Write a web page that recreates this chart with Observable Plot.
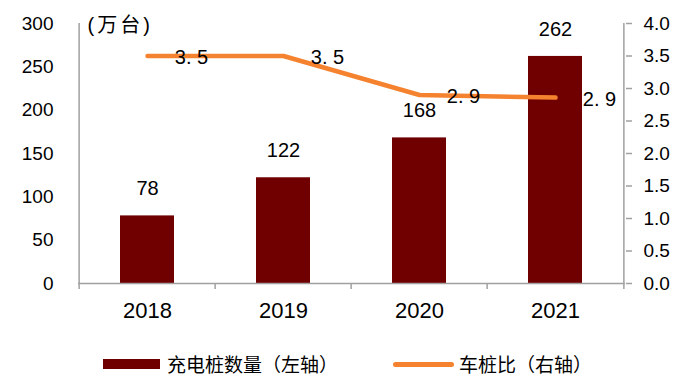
<!DOCTYPE html>
<html><head><meta charset="utf-8">
<script src="https://cdn.jsdelivr.net/npm/d3@7"></script>
<script src="https://cdn.jsdelivr.net/npm/@observablehq/plot@0.6"></script>
<style>
html,body{margin:0;padding:0;background:#fff;}
#chart{width:700px;height:382px;position:relative;overflow:hidden;font-family:"Liberation Sans","Noto Sans CJK SC",sans-serif;}
#chart svg{display:block;}
.legend{position:relative;width:700px;height:42px;font-family:"Noto Sans CJK SC",sans-serif;font-size:19px;color:#000;}
.legend .sw{position:absolute;display:block;}
.legend .lab{position:absolute;line-height:20px;white-space:nowrap;}
</style></head><body><div id="chart"></div>
<script>
const years = ["2018", "2019", "2020", "2021"];
const piles = [78, 122, 168, 262];
const ratio = [3.5, 3.5, 2.9, 2.86];
const leftTicks = [0, 50, 100, 150, 200, 250, 300];
const rightTicks = [0, 0.5, 1.0, 1.5, 2.0, 2.5, 3.0, 3.5, 4.0];
const unitLabel = "(万台)";
const seriesNames = ["充电桩数量（左轴）", "车桩比（右轴）"];

const W = 700, H = 340, mL = 78, mR = 75, mT = 23, mB = 57;
const k = 300 / 4; // right axis (0-4) mapped onto left axis (0-300)
const step = (W - mL - mR) / years.length;
const gray = "#a0a0a0", barColor = "#700000", lineColor = "#F5822F";
const data = years.map((y, i) => ({year: y, piles: piles[i], ratio: ratio[i]}));
const fmtRatio = v => v.toFixed(1).replace(".", ". ");

const chart = Plot.plot({
  width: W, height: H,
  marginLeft: mL, marginRight: mR, marginTop: mT, marginBottom: mB,
  style: {fontFamily: '"Liberation Sans","Noto Sans CJK SC",sans-serif', fontSize: "19px", color: "#000", background: "#fff"},
  x: {domain: years, paddingInner: 0.6, paddingOuter: 0.3, label: null},
  y: {domain: [0, 300], label: null},
  marks: [
    Plot.barY(data, {x: "year", y: "piles", fill: barColor}),
    Plot.ruleY([0], {stroke: gray, strokeWidth: 1.5}),
    Plot.ruleX(years, {x: d => d, dx: -step / 2, stroke: gray, strokeWidth: 1.5, insetTop: H - mT - mB, insetBottom: -6}),
    Plot.ruleX([years[0]], {x: d => d, dx: -step / 2, stroke: gray, strokeWidth: 1.5}),
    Plot.ruleX([years[years.length - 1]], {x: d => d, dx: step / 2, stroke: gray, strokeWidth: 1.5, insetBottom: -6}),
    Plot.axisX({tickSize: 0, tickPadding: 19, fontSize: 22, label: null}),
    Plot.axisY({anchor: "left", ticks: leftTicks, tickSize: 0, tickPadding: 25, label: null}),
    Plot.axisY({anchor: "right", ticks: rightTicks.map(v => v * k), tickFormat: d => (d / k).toFixed(1), tickSize: 6, tickPadding: 12, stroke: gray, strokeWidth: 1.5, label: null}),
    Plot.line(data, {x: "year", y: d => d.ratio * k, stroke: lineColor, strokeWidth: 4.5, strokeLinecap: "round"}),
    Plot.text(data, {x: "year", y: "piles", text: d => String(d.piles), dy: -27, fontSize: 20}),
    Plot.text(data, {x: "year", y: d => d.ratio * k, text: d => fmtRatio(d.ratio), dx: 44, dy: 2, fontSize: 20}),
    Plot.text([unitLabel], {frameAnchor: "top-left", dx: 9, dy: 2, lineAnchor: "middle", textAnchor: "start", fontSize: 20, fontFamily: '"Liberation Sans","Noto Sans CJK SC",sans-serif'})
  ]
});
d3.select(chart).selectAll("text").filter(function () { return this.textContent === unitLabel; }).style("letter-spacing", "3px");
const root = document.getElementById("chart");
root.appendChild(chart);

const legend = document.createElement("div");
legend.className = "legend";
legend.innerHTML =
  `<span class="sw" style="left:103px;top:19px;width:57px;height:10px;background:${barColor}"></span>` +
  `<span class="lab" style="left:167px;top:14px">${seriesNames[0]}</span>` +
  `<span class="sw" style="left:393px;top:22px;width:61px;height:5px;border-radius:3px;background:${lineColor}"></span>` +
  `<span class="lab" style="left:459px;top:14px">${seriesNames[1]}</span>`;
root.appendChild(legend);
</script>
</body></html>
